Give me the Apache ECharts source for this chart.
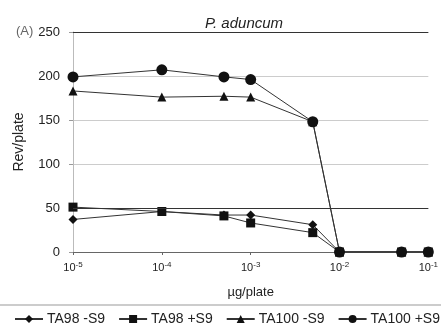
<!DOCTYPE html>
<html><head><meta charset="utf-8">
<script src="https://cdn.jsdelivr.net/npm/echarts@6/dist/echarts.min.js"></script>
<style>html,body{margin:0;padding:0;background:#fff}#c{width:441px;height:329px}</style>
</head><body><div id="c"></div>
<script>
var doses = [1e-5, 1e-4, 5e-4, 1e-3, 5e-3, 1e-2, 5e-2, 1e-1];
var ta98m = [37, 46, 42, 42, 31, 0, 0, 0];
var ta98p = [51, 46, 41, 33, 22, 0, 0, 0];
var ta100m = [183, 176, 177, 176, 148, 0, 0, 0];
var ta100p = [199, 207, 199, 196, 148, 0, 0, 0];
var seriesNames = ['TA98 -S9', 'TA98 +S9', 'TA100 -S9', 'TA100 +S9'];
var xTickExponents = ['-5', '-4', '-3', '-2', '-1'];
var yTicks = [0, 50, 100, 150, 200, 250];
var refLines = [50, 250];

function pairs(v){ return doses.map(function(d,i){ return [d, v[i]]; }); }
var font = 'Liberation Sans, Arial, sans-serif';
var symbols = ['diamond', 'rect', 'triangle', 'circle'];
var sizes = [9, 9, 9, 11];
var vals = [ta98m, ta98p, ta100m, ta100p];

var series = seriesNames.map(function(n, i){
  var s = {
    name: n, type: 'line', data: pairs(vals[i]),
    symbol: symbols[i], symbolSize: sizes[i],
    itemStyle: {color: '#111'},
    lineStyle: {color: '#333', width: 1},
    emphasis: {disabled: true}, animation: false, z: 3 + i
  };
  if (i === 0) {
    s.markLine = {
      silent: true, symbol: 'none', label: {show: false},
      lineStyle: {color: '#333', width: 1, type: 'solid'},
      data: refLines.map(function(v){ return {yAxis: v}; }),
      animation: false
    };
  }
  return s;
});

var chart = echarts.init(document.getElementById('c'));
chart.setOption({
  animation: false,
  title: {
    text: 'P. aduncum', left: 239, top: 11, textAlign: 'center',
    textStyle: {fontFamily: font, fontSize: 15, fontStyle: 'italic', fontWeight: 'normal', color: '#222'}
  },
  graphic: [
    {type: 'text', left: 16, top: 25, style: {text: '(A)', font: '13px ' + font, fill: '#666'}},
    {type: 'rect', shape: {x: -2, y: 305, width: 446, height: 30}, style: {fill: 'none', stroke: '#999', lineWidth: 1}, silent: true}
  ],
  grid: {left: 73, right: 11, top: 32, bottom: 77},
  xAxis: {
    type: 'log', logBase: 10, min: 1e-5, max: 1e-1,
    name: 'µg/plate', nameLocation: 'middle', nameGap: 34,
    nameTextStyle: {fontFamily: font, fontSize: 13, color: '#222'},
    axisLine: {lineStyle: {color: '#666'}},
    axisTick: {show: true, length: 3, lineStyle: {color: '#666'}},
    minorTick: {show: false},
    splitLine: {show: false},
    axisLabel: {
      margin: 9,
      formatter: function(v){
        var e = Math.round(Math.log10(v));
        var idx = e + 5;
        return '{b|10}{s|' + xTickExponents[idx] + '}';
      },
      rich: {
        b: {fontFamily: font, fontSize: 11, color: '#222'},
        s: {fontFamily: font, fontSize: 8, color: '#222', verticalAlign: 'top', padding: [0, 0, 6, 0]}
      }
    }
  },
  yAxis: {
    type: 'value', min: yTicks[0], max: yTicks[yTicks.length - 1], interval: 50,
    name: 'Rev/plate', nameLocation: 'middle', nameGap: 47,
    nameTextStyle: {fontFamily: font, fontSize: 14, color: '#222'},
    axisLine: {show: true, lineStyle: {color: '#bbb'}},
    axisTick: {show: true, length: 4, lineStyle: {color: '#999'}},
    axisLabel: {fontFamily: font, fontSize: 13, color: '#222', margin: 13},
    splitLine: {show: true, lineStyle: {color: '#ccc', width: 1}}
  },
  legend: {
    top: 312, left: 14,
    data: seriesNames,
    itemWidth: 28, itemHeight: 10, itemGap: 13,
    padding: 0,
    textStyle: {fontFamily: font, fontSize: 14, color: '#222', padding: [0, 0, 0, -1]}
  },
  series: series
});
</script></body></html>
